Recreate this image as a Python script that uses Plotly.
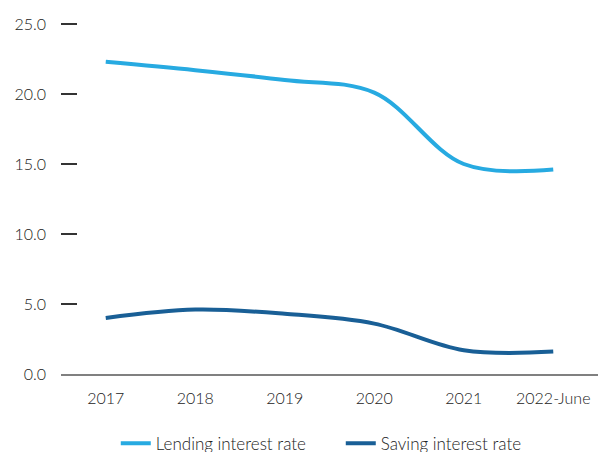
import plotly.graph_objects as go

categories = ["2017", "2018", "2019", "2020", "2021", "2022-June"]
lending = [22.3, 21.7, 21.0, 20.1, 15.0, 14.6]
saving = [4.0, 4.6, 4.3, 3.6, 1.7, 1.6]
y_ticks = [0, 5, 10, 15, 20, 25]
y_labels = ["0.0", "5.0", "10.0", "15.0", "20.0", "25.0"]

FONT = "Lato"
TXT = "#222222"

fig = go.Figure()
fig.add_trace(go.Scatter(x=categories, y=lending, mode="lines", name="Lending interest rate",
                         line=dict(color="#27AAE1", width=4, shape="spline", smoothing=1.0)))
fig.add_trace(go.Scatter(x=categories, y=saving, mode="lines", name="Saving interest rate",
                         line=dict(color="#195F96", width=4, shape="spline", smoothing=1.0)))

fig.update_layout(
    width=599, height=452,
    margin=dict(l=61, r=1, t=17, b=78, autoexpand=False),
    paper_bgcolor="white", plot_bgcolor="white",
    font=dict(family=FONT, size=16, color=TXT, weight=300),
    showlegend=True,
    legend=dict(orientation="h", x=0.521, xanchor="center", y=-0.145, yanchor="top",
                font=dict(size=17, color=TXT, weight=300), entrywidth=180, entrywidthmode="pixels",
                tracegroupgap=0),
    xaxis=dict(type="category", range=[-0.5, 5.5], showgrid=False, zeroline=False, automargin=False,
               showline=True, linecolor="#808080", linewidth=2, ticks="", ticklabelstandoff=9,
               tickfont=dict(size=16, color=TXT, weight=300)),
    yaxis=dict(range=[0, 25.5], tickvals=y_ticks, ticktext=y_labels, showgrid=False, zeroline=False,
               automargin=False,
               showline=False, ticks="inside", ticklen=16, tickwidth=1.5, tickcolor="#333333",
               ticklabelstandoff=14, tickfont=dict(size=16, color=TXT, weight=300)),
)

fig.write_html("out.html", config={"displayModeBar": False},
               post_script="document.body.style.margin='0';document.body.style.overflow='hidden';")
